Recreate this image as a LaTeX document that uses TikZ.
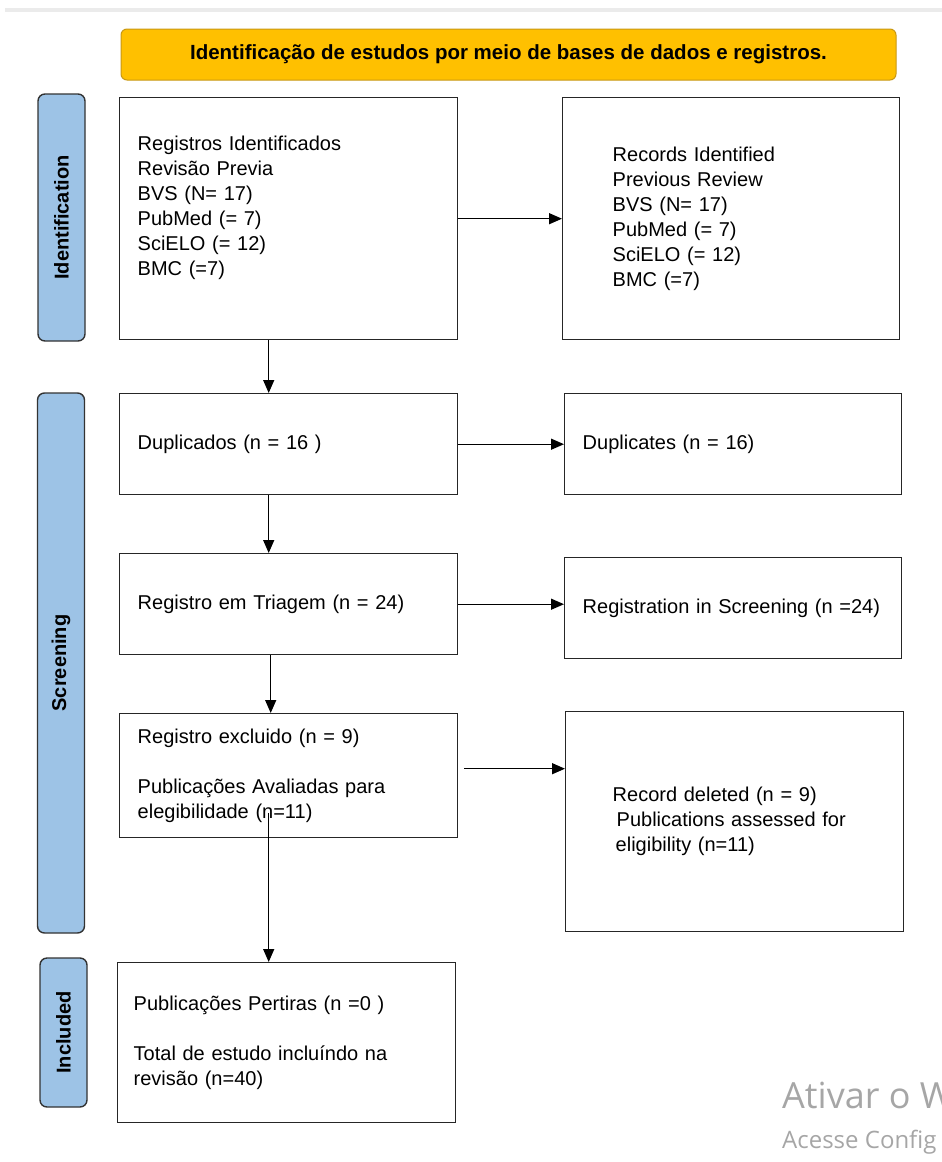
\documentclass[tikz,border=0pt]{standalone}
\usepackage{fontspec}
\setmainfont{Liberation Sans}
\newfontfamily\winfont{Open Sans}
\usepackage{tikz}
\usetikzlibrary{arrows.meta}

\definecolor{amarelo}{RGB}{255,192,0}
\definecolor{ouro}{RGB}{200,152,20}
\definecolor{azul}{RGB}{157,195,230}
\definecolor{cinza}{RGB}{166,166,166}

\begin{document}
\begin{tikzpicture}[x=1pt,y=-1pt,
    caixa/.style={draw=black!85, line width=1.4pt, inner sep=0pt, anchor=north west, align=left, font=\fontsize{20}{25}\selectfont},
    fase/.style={draw=black!80, fill=azul, line width=1.4pt, rounded corners=7pt, rotate=90, inner sep=0pt, minimum height=47pt, font=\bfseries\fontsize{20}{24}\selectfont},
    seta/.style={-{Triangle[length=13pt,width=11pt]}, line width=1.3pt}]
  \useasboundingbox (0,0) rectangle (942,1162);
  \fill[black!8] (5,8) rectangle (942,12);

    \draw (508.5,54.5) node[draw=ouro, fill=amarelo, line width=1pt, rounded corners=6pt, minimum width=775pt, minimum height=51pt, font=\bfseries\fontsize{20.5}{24}\selectfont] (titulo) {Identificação de estudos por meio de bases de dados e registros.};

    \draw (61.5,217.5) node[fase, minimum width=247pt] (ident) {Identification};
    \draw (61,663) node[fase, minimum width=540pt] (screen) {Screening};
    \draw (63.5,1032.5) node[fase, minimum width=149pt] (included) {Included};

    \draw (119,97) node[caixa, minimum width=338pt, minimum height=242pt, text width=302pt] (regpt) {Registros Identificados\\ Revisão Previa\\ BVS (N= 17)\\ PubMed (= 7)\\ SciELO (= 12)\\ BMC (=7)\\ \mbox{}};
    \draw (562,97) node[caixa, minimum width=337pt, minimum height=242pt, text width=237pt] (regen) {Records Identified\\ Previous Review\\ BVS (N= 17)\\ PubMed (= 7)\\ SciELO (= 12)\\ BMC (=7)};
      \path[seta] (regpt) edge (regen);

    \draw (119,393) node[caixa, minimum width=338pt, minimum height=101pt, text width=302pt] (dup) {Duplicados (n = 16 )};
    \draw (564,393) node[caixa, minimum width=337pt, minimum height=101pt, text width=301pt] (dupen) {Duplicates (n = 16)};
      \path[seta] (dup) edge (dupen);
      \path[seta] ([xshift=-20pt]regpt.south) edge ([xshift=-20pt]dup.north);

    \draw (119,553) node[caixa, minimum width=338pt, minimum height=101pt, text width=302pt] (triagem) {Registro em Triagem (n = 24)};
    \draw (564,557) node[caixa, minimum width=337pt, minimum height=101pt, text width=301pt] (triagemen) {Registration in Screening (n =24)};
      \path[seta] (triagem.east) edge (triagem.east -| triagemen.west);
      \path[seta] ([xshift=-20pt]dup.south) edge ([xshift=-20pt]triagem.north);

    \draw (119,713) node[caixa, minimum width=338pt, minimum height=124pt, text width=302pt] (excl) {Registro excluido (n = 9)\\[25pt] Publicações Avaliadas para\\ elegibilidade (n=11)};
    \draw (565,711) node[caixa, minimum width=338pt, minimum height=220pt, text width=244pt] (exclen) {Record deleted (n = 9)\\ \hspace*{4pt}Publications assessed for\\ \hspace*{3pt}eligibility (n=11)};
      \coordinate (saida) at ([xshift=6pt,yshift=7pt]excl.east);
      \path[seta] (saida) edge (saida -| exclen.west);
      \path[seta] ([xshift=-18pt]triagem.south) edge ([xshift=-18pt]excl.north);

    \draw (117,962) node[caixa, minimum width=338pt, minimum height=160pt, text width=306pt] (incl) {Publicações Pertiras (n =0 )\\[25pt] Total de estudo incluíndo na\\ revisão (n=40)};
      \coordinate (meio) at ([xshift=-20pt,yshift=25pt]excl.south);
      \path[seta] (meio) edge (meio |- incl.north);

  \begin{scope}
    \clip (0,0) rectangle (942,1162);
    \draw (782,1108) node[anchor=base west, inner sep=0pt, text=cinza, font=\winfont\fontsize{36}{40}\selectfont] (ativar) {Ativar o W};
    \draw (782,1148) node[anchor=base west, inner sep=0pt, text=cinza, font=\winfont\fontsize{24}{28}\selectfont] (acesse) {Acesse Config};
  \end{scope}
\end{tikzpicture}
\end{document}
